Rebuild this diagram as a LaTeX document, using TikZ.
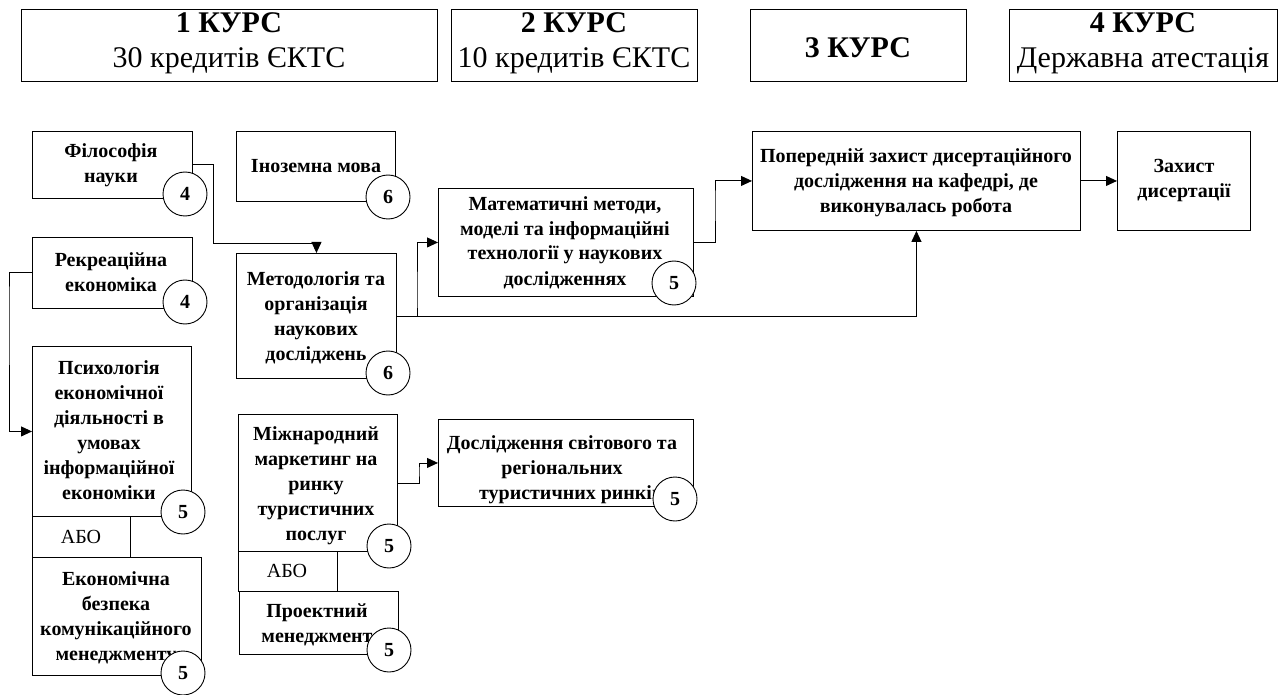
\documentclass[tikz,border=0pt]{standalone}
\usepackage{fontspec}
\setmainfont{Liberation Serif}
\usetikzlibrary{arrows.meta}
\tikzset{
  box/.style={draw=black, line width=0.9pt, fill=white, inner sep=0pt, anchor=north west},
  btxt/.style={align=center, inner sep=0pt, anchor=base, font=\fontsize{20}{25}\selectfont\bfseries},
  rtxt/.style={align=center, inner sep=0pt, anchor=base, font=\fontsize{20}{25}\selectfont},
  htxt/.style={align=center, inner sep=0pt, anchor=base, font=\fontsize{30}{35}\selectfont},
  num/.style={circle, draw=black, line width=0.9pt, fill=white, minimum size=44pt, inner sep=0pt, font=\fontsize{20}{24}\selectfont\bfseries},
  conn/.style={line width=0.9pt, -{Triangle[length=11pt,width=10pt]}},
}
\begin{document}
\begin{tikzpicture}[x=1pt,y=-1pt]
\useasboundingbox (0,0) rectangle (1283,695);
% headers
\node[box, minimum width=416pt, minimum height=72pt] (h1) at (21,9) {};
\node[box, minimum width=246pt, minimum height=72pt] (h2) at (451,9) {};
\node[box, minimum width=216pt, minimum height=72pt] (h3) at (750,9) {};
\node[box, minimum width=268pt, minimum height=72pt] (h4) at (1009,9) {};
\node[htxt] (h1t) at (229,68) {\textbf{1 КУРС}\\30 кредитів ЄКТС};
\node[htxt] (h2t) at (574,68) {\textbf{2 КУРС}\\10 кредитів ЄКТС};
\node[htxt] (h3t) at (858,58) {\textbf{3 КУРС}};
\node[htxt] (h4t) at (1143,68) {\textbf{4 КУРС}\\Державна атестація};
% boxes
\node[box, minimum width=160pt, minimum height=67pt] (phil) at (32,131) {};
\node[box, minimum width=159pt, minimum height=70pt] (inoz) at (236,131) {};
\node[box, minimum width=160pt, minimum height=71pt] (rek) at (32,237) {};
\node[box, minimum width=160pt, minimum height=125pt] (meth) at (236,253) {};
\node[box, minimum width=159pt, minimum height=170pt] (psy) at (32,346) {};
\node[box, minimum width=98pt, minimum height=41pt] (abo1) at (32,516) {};
\node[box, minimum width=169pt, minimum height=118pt] (econ) at (32,557) {};
\node[box, minimum width=159pt, minimum height=137pt] (mizh) at (238,414) {};
\node[box, minimum width=99pt, minimum height=40pt] (abo2) at (238,551) {};
\node[box, minimum width=159pt, minimum height=63pt] (proj) at (239,591) {};
\node[box, minimum width=255pt, minimum height=108pt] (mat) at (438,188) {};
\node[box, minimum width=255pt, minimum height=87pt] (dosl) at (438,419) {};
\node[box, minimum width=328pt, minimum height=99pt] (pop) at (752,131) {};
\node[box, minimum width=133pt, minimum height=99pt] (zah) at (1117,131) {};
% texts (anchor base = baseline of the last line)
\node[btxt] (phil-t) at (111,183) {Філософія\\науки};
\node[btxt] (inoz-t) at (316,173) {Іноземна мова};
\node[btxt] (rek-t) at (111,291) {Рекреаційна\\економіка};
\node[btxt] (meth-t) at (316,360) {Методологія та\\організація\\наукових\\досліджень};
\node[btxt] (psy-t) at (109,499) {Психологія\\економічної\\діяльності в\\умовах\\інформаційної\\економіки};
\node[rtxt] (abo1-t) at (81,543) {АБО};
\node[btxt] (econ-t) at (116,660) {Економічна\\безпека\\комунікаційного\\менеджменту};
\node[btxt] (mizh-t) at (316,540) {Міжнародний\\маркетинг на\\ринку\\туристичних\\послуг};
\node[rtxt] (abo2-t) at (287,577) {АБО};
\node[btxt] (proj-t) at (317,642) {Проектний\\менеджмент};
\node[btxt] (mat-t) at (565,285) {Математичні методи,\\моделі та інформаційні\\технології у наукових\\дослідженнях};
\node[btxt] (dosl-t) at (562,499) {Дослідження світового та\\регіональних\\\hspace*{18pt}туристичних ринків};
\node[btxt] (pop-t) at (916,213) {Попередній захист дисертаційного\\дослідження на кафедрі, де\\виконувалась робота};
\node[btxt] (zah-t) at (1184,198) {Захист\\дисертації};
% circles
\node[num] (c-phil) at (185,194) {4};
\node[num] (c-rek) at (185,302) {4};
\node[num] (c-inoz) at (388,197) {6};
\node[num] (c-meth) at (388,373) {6};
\node[num] (c-psy) at (183,512) {5};
\node[num] (c-econ) at (183,673) {5};
\node[num] (c-mizh) at (389,546) {5};
\node[num] (c-proj) at (389,650) {5};
\node[num] (c-mat) at (674,283) {5};
\node[num] (c-dosl) at (675,499) {5};
% connectors
\coordinate (k1) at (213,243);
\coordinate (k2) at (9,300);
\coordinate (k3) at (417,300);
\coordinate (k4) at (715,200);
\coordinate (k5) at (419,470);
\draw[conn] (phil.east) -| (k1) -| (meth.north);
\draw[conn] (rek.west) -| (k2) |- (psy.west);
\draw[conn] (meth.east) -| (k3) |- (mat.west);
\draw[conn] (meth.east) -| (pop.south);
\draw[conn] (mat.east) -| (k4) |- (pop.west);
\draw[conn] (pop.east) -- (zah.west);
\draw[conn] (mizh.east) -| (k5) |- (dosl.west);
\end{tikzpicture}
\end{document}
